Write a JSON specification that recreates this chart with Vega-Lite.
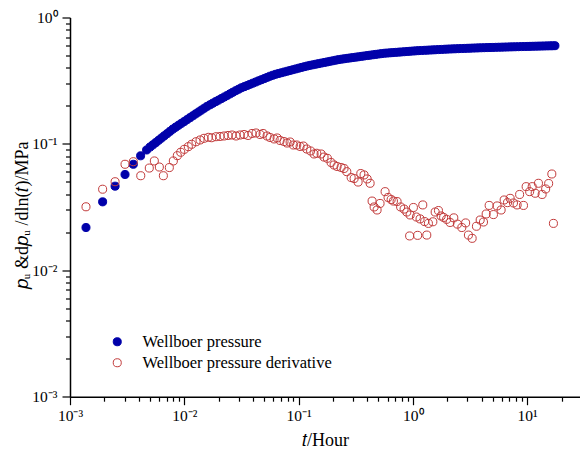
{
  "$schema": "https://vega.github.io/schema/vega-lite/v6.json",
  "width": 510,
  "height": 379.2,
  "autosize": {"type": "none"},
  "padding": {"left": 70, "top": 17.5, "right": 0, "bottom": 52.3},
  "background": "white",
  "config": {"view": {"stroke": null}, "font": "Liberation Serif"},
  "data": {"values": [
    {"s":"Wellboer pressure","t":0.00138,"p":0.0218},{"s":"Wellboer pressure","t":0.00193,"p":0.0348},{"s":"Wellboer pressure","t":0.00248,"p":0.0463},
    {"s":"Wellboer pressure","t":0.00303,"p":0.0573},{"s":"Wellboer pressure","t":0.00358,"p":0.069},{"s":"Wellboer pressure","t":0.00415,"p":0.0805},
    {"s":"Wellboer pressure","t":0.00468,"p":0.0895},{"s":"Wellboer pressure","t":0.005012,"p":0.0944},{"s":"Wellboer pressure","t":0.005309,"p":0.0983},
    {"s":"Wellboer pressure","t":0.005623,"p":0.1023},{"s":"Wellboer pressure","t":0.005957,"p":0.1067},{"s":"Wellboer pressure","t":0.00631,"p":0.1112},
    {"s":"Wellboer pressure","t":0.006683,"p":0.1159},{"s":"Wellboer pressure","t":0.007079,"p":0.1206},{"s":"Wellboer pressure","t":0.007499,"p":0.1257},
    {"s":"Wellboer pressure","t":0.007943,"p":0.1309},{"s":"Wellboer pressure","t":0.008414,"p":0.1357},{"s":"Wellboer pressure","t":0.008913,"p":0.1406},
    {"s":"Wellboer pressure","t":0.009441,"p":0.1455},{"s":"Wellboer pressure","t":0.01,"p":0.1505},{"s":"Wellboer pressure","t":0.01059,"p":0.1558},
    {"s":"Wellboer pressure","t":0.01122,"p":0.1613},{"s":"Wellboer pressure","t":0.01189,"p":0.167},{"s":"Wellboer pressure","t":0.01259,"p":0.1728},
    {"s":"Wellboer pressure","t":0.01334,"p":0.1789},{"s":"Wellboer pressure","t":0.01413,"p":0.1851},{"s":"Wellboer pressure","t":0.01496,"p":0.1916},
    {"s":"Wellboer pressure","t":0.01585,"p":0.1982},{"s":"Wellboer pressure","t":0.01679,"p":0.204},{"s":"Wellboer pressure","t":0.01778,"p":0.2099},
    {"s":"Wellboer pressure","t":0.01884,"p":0.216},{"s":"Wellboer pressure","t":0.01995,"p":0.2221},{"s":"Wellboer pressure","t":0.02113,"p":0.2285},
    {"s":"Wellboer pressure","t":0.02239,"p":0.235},{"s":"Wellboer pressure","t":0.02371,"p":0.2419},{"s":"Wellboer pressure","t":0.02512,"p":0.2489},
    {"s":"Wellboer pressure","t":0.02661,"p":0.2562},{"s":"Wellboer pressure","t":0.02818,"p":0.2636},{"s":"Wellboer pressure","t":0.02985,"p":0.2708},
    {"s":"Wellboer pressure","t":0.03162,"p":0.278},{"s":"Wellboer pressure","t":0.0335,"p":0.2838},{"s":"Wellboer pressure","t":0.03548,"p":0.2897},
    {"s":"Wellboer pressure","t":0.03758,"p":0.296},{"s":"Wellboer pressure","t":0.03981,"p":0.3023},{"s":"Wellboer pressure","t":0.04217,"p":0.3089},
    {"s":"Wellboer pressure","t":0.04467,"p":0.3155},{"s":"Wellboer pressure","t":0.04732,"p":0.3222},{"s":"Wellboer pressure","t":0.05012,"p":0.3289},
    {"s":"Wellboer pressure","t":0.05309,"p":0.336},{"s":"Wellboer pressure","t":0.05623,"p":0.3432},{"s":"Wellboer pressure","t":0.05957,"p":0.3494},
    {"s":"Wellboer pressure","t":0.0631,"p":0.3556},{"s":"Wellboer pressure","t":0.06683,"p":0.3606},{"s":"Wellboer pressure","t":0.07079,"p":0.3656},
    {"s":"Wellboer pressure","t":0.07499,"p":0.3707},{"s":"Wellboer pressure","t":0.07943,"p":0.3758},{"s":"Wellboer pressure","t":0.08414,"p":0.3811},
    {"s":"Wellboer pressure","t":0.08913,"p":0.3864},{"s":"Wellboer pressure","t":0.09441,"p":0.3918},{"s":"Wellboer pressure","t":0.1,"p":0.3972},
    {"s":"Wellboer pressure","t":0.1059,"p":0.4027},{"s":"Wellboer pressure","t":0.1122,"p":0.4083},{"s":"Wellboer pressure","t":0.1189,"p":0.4132},
    {"s":"Wellboer pressure","t":0.1259,"p":0.4182},{"s":"Wellboer pressure","t":0.1334,"p":0.4226},{"s":"Wellboer pressure","t":0.1413,"p":0.427},
    {"s":"Wellboer pressure","t":0.1496,"p":0.4315},{"s":"Wellboer pressure","t":0.1585,"p":0.4361},{"s":"Wellboer pressure","t":0.1679,"p":0.4407},
    {"s":"Wellboer pressure","t":0.1778,"p":0.4453},{"s":"Wellboer pressure","t":0.1884,"p":0.45},{"s":"Wellboer pressure","t":0.1995,"p":0.4547},
    {"s":"Wellboer pressure","t":0.2113,"p":0.4595},{"s":"Wellboer pressure","t":0.2239,"p":0.4643},{"s":"Wellboer pressure","t":0.2371,"p":0.468},
    {"s":"Wellboer pressure","t":0.2512,"p":0.4718},{"s":"Wellboer pressure","t":0.2661,"p":0.4752},{"s":"Wellboer pressure","t":0.2818,"p":0.4786},
    {"s":"Wellboer pressure","t":0.2985,"p":0.482},{"s":"Wellboer pressure","t":0.3162,"p":0.4855},{"s":"Wellboer pressure","t":0.335,"p":0.489},
    {"s":"Wellboer pressure","t":0.3548,"p":0.4926},{"s":"Wellboer pressure","t":0.3758,"p":0.4962},{"s":"Wellboer pressure","t":0.3981,"p":0.4997},
    {"s":"Wellboer pressure","t":0.4217,"p":0.5033},{"s":"Wellboer pressure","t":0.4467,"p":0.507},{"s":"Wellboer pressure","t":0.4732,"p":0.5106},
    {"s":"Wellboer pressure","t":0.5012,"p":0.5143},{"s":"Wellboer pressure","t":0.5309,"p":0.5178},{"s":"Wellboer pressure","t":0.5623,"p":0.5213},
    {"s":"Wellboer pressure","t":0.5957,"p":0.5234},{"s":"Wellboer pressure","t":0.631,"p":0.5255},{"s":"Wellboer pressure","t":0.6683,"p":0.5276},
    {"s":"Wellboer pressure","t":0.7079,"p":0.5298},{"s":"Wellboer pressure","t":0.7499,"p":0.532},{"s":"Wellboer pressure","t":0.7943,"p":0.5341},
    {"s":"Wellboer pressure","t":0.8414,"p":0.5362},{"s":"Wellboer pressure","t":0.8913,"p":0.5384},{"s":"Wellboer pressure","t":0.9441,"p":0.5406},
    {"s":"Wellboer pressure","t":1.0,"p":0.5428},{"s":"Wellboer pressure","t":1.059,"p":0.5448},{"s":"Wellboer pressure","t":1.122,"p":0.5468},
    {"s":"Wellboer pressure","t":1.189,"p":0.5483},{"s":"Wellboer pressure","t":1.259,"p":0.5498},{"s":"Wellboer pressure","t":1.334,"p":0.5513},
    {"s":"Wellboer pressure","t":1.413,"p":0.5529},{"s":"Wellboer pressure","t":1.496,"p":0.5544},{"s":"Wellboer pressure","t":1.585,"p":0.5559},
    {"s":"Wellboer pressure","t":1.679,"p":0.5574},{"s":"Wellboer pressure","t":1.778,"p":0.559},{"s":"Wellboer pressure","t":1.884,"p":0.5605},
    {"s":"Wellboer pressure","t":1.995,"p":0.5621},{"s":"Wellboer pressure","t":2.113,"p":0.5634},{"s":"Wellboer pressure","t":2.239,"p":0.5648},
    {"s":"Wellboer pressure","t":2.371,"p":0.5659},{"s":"Wellboer pressure","t":2.512,"p":0.567},{"s":"Wellboer pressure","t":2.661,"p":0.5682},
    {"s":"Wellboer pressure","t":2.818,"p":0.5694},{"s":"Wellboer pressure","t":2.985,"p":0.5705},{"s":"Wellboer pressure","t":3.162,"p":0.5716},
    {"s":"Wellboer pressure","t":3.35,"p":0.5728},{"s":"Wellboer pressure","t":3.548,"p":0.574},{"s":"Wellboer pressure","t":3.758,"p":0.5751},
    {"s":"Wellboer pressure","t":3.981,"p":0.5762},{"s":"Wellboer pressure","t":4.217,"p":0.5771},{"s":"Wellboer pressure","t":4.467,"p":0.5781},
    {"s":"Wellboer pressure","t":4.732,"p":0.579},{"s":"Wellboer pressure","t":5.012,"p":0.5798},{"s":"Wellboer pressure","t":5.309,"p":0.5807},
    {"s":"Wellboer pressure","t":5.623,"p":0.5817},{"s":"Wellboer pressure","t":5.957,"p":0.5825},{"s":"Wellboer pressure","t":6.31,"p":0.5834},
    {"s":"Wellboer pressure","t":6.683,"p":0.5843},{"s":"Wellboer pressure","t":7.079,"p":0.5853},{"s":"Wellboer pressure","t":7.499,"p":0.5862},
    {"s":"Wellboer pressure","t":7.943,"p":0.5871},{"s":"Wellboer pressure","t":8.414,"p":0.5879},{"s":"Wellboer pressure","t":8.913,"p":0.5888},
    {"s":"Wellboer pressure","t":9.441,"p":0.5896},{"s":"Wellboer pressure","t":10.0,"p":0.5904},{"s":"Wellboer pressure","t":10.59,"p":0.5912},
    {"s":"Wellboer pressure","t":11.22,"p":0.5921},{"s":"Wellboer pressure","t":11.89,"p":0.5929},{"s":"Wellboer pressure","t":12.59,"p":0.5937},
    {"s":"Wellboer pressure","t":13.34,"p":0.5945},{"s":"Wellboer pressure","t":14.13,"p":0.5954},{"s":"Wellboer pressure","t":14.96,"p":0.5962},
    {"s":"Wellboer pressure","t":15.85,"p":0.597},{"s":"Wellboer pressure","t":16.65,"p":0.5977},{"s":"Wellboer pressure","t":17.5,"p":0.5984},
    {"s":"Wellboer pressure derivative","t":0.00138,"p":0.0318},{"s":"Wellboer pressure derivative","t":0.00193,"p":0.0438},
    {"s":"Wellboer pressure derivative","t":0.00248,"p":0.0502},{"s":"Wellboer pressure derivative","t":0.00303,"p":0.069},
    {"s":"Wellboer pressure derivative","t":0.00358,"p":0.0723},{"s":"Wellboer pressure derivative","t":0.00416,"p":0.056},
    {"s":"Wellboer pressure derivative","t":0.00494,"p":0.0644},{"s":"Wellboer pressure derivative","t":0.00547,"p":0.0733},
    {"s":"Wellboer pressure derivative","t":0.00605,"p":0.0656},{"s":"Wellboer pressure derivative","t":0.00656,"p":0.056},
    {"s":"Wellboer pressure derivative","t":0.0074,"p":0.065},{"s":"Wellboer pressure derivative","t":0.00802,"p":0.0733},
    {"s":"Wellboer pressure derivative","t":0.00869,"p":0.0807},{"s":"Wellboer pressure derivative","t":0.00931,"p":0.0859},
    {"s":"Wellboer pressure derivative","t":0.01001,"p":0.0906},{"s":"Wellboer pressure derivative","t":0.01085,"p":0.0951},
    {"s":"Wellboer pressure derivative","t":0.01161,"p":0.0993},{"s":"Wellboer pressure derivative","t":0.01267,"p":0.104},
    {"s":"Wellboer pressure derivative","t":0.01374,"p":0.1074},{"s":"Wellboer pressure derivative","t":0.01489,"p":0.1107},
    {"s":"Wellboer pressure derivative","t":0.01625,"p":0.1127},{"s":"Wellboer pressure derivative","t":0.01738,"p":0.1119},
    {"s":"Wellboer pressure derivative","t":0.01897,"p":0.114},{"s":"Wellboer pressure derivative","t":0.02056,"p":0.1145},
    {"s":"Wellboer pressure derivative","t":0.02228,"p":0.1155},{"s":"Wellboer pressure derivative","t":0.02415,"p":0.1166},
    {"s":"Wellboer pressure derivative","t":0.02618,"p":0.1176},{"s":"Wellboer pressure derivative","t":0.02838,"p":0.1155},
    {"s":"Wellboer pressure derivative","t":0.03076,"p":0.1176},{"s":"Wellboer pressure derivative","t":0.03334,"p":0.1187},
    {"s":"Wellboer pressure derivative","t":0.03614,"p":0.1166},{"s":"Wellboer pressure derivative","t":0.03917,"p":0.1209},
    {"s":"Wellboer pressure derivative","t":0.04246,"p":0.122},{"s":"Wellboer pressure derivative","t":0.04603,"p":0.1187},
    {"s":"Wellboer pressure derivative","t":0.0489,"p":0.1209},{"s":"Wellboer pressure derivative","t":0.053,"p":0.1155},
    {"s":"Wellboer pressure derivative","t":0.0563,"p":0.1124},{"s":"Wellboer pressure derivative","t":0.0611,"p":0.1094},
    {"s":"Wellboer pressure derivative","t":0.0649,"p":0.1114},{"s":"Wellboer pressure derivative","t":0.0689,"p":0.1064},
    {"s":"Wellboer pressure derivative","t":0.0746,"p":0.1044},{"s":"Wellboer pressure derivative","t":0.0793,"p":0.1016},
    {"s":"Wellboer pressure derivative","t":0.0843,"p":0.1035},{"s":"Wellboer pressure derivative","t":0.09,"p":0.098},
    {"s":"Wellboer pressure derivative","t":0.0964,"p":0.098},{"s":"Wellboer pressure derivative","t":0.1031,"p":0.0954},
    {"s":"Wellboer pressure derivative","t":0.1102,"p":0.0962},{"s":"Wellboer pressure derivative","t":0.118,"p":0.0911},
    {"s":"Wellboer pressure derivative","t":0.1274,"p":0.0879},{"s":"Wellboer pressure derivative","t":0.1367,"p":0.0832},
    {"s":"Wellboer pressure derivative","t":0.1443,"p":0.0843},{"s":"Wellboer pressure derivative","t":0.1574,"p":0.0832},
    {"s":"Wellboer pressure derivative","t":0.1671,"p":0.0787},{"s":"Wellboer pressure derivative","t":0.1786,"p":0.0769},
    {"s":"Wellboer pressure derivative","t":0.1924,"p":0.0713},{"s":"Wellboer pressure derivative","t":0.2045,"p":0.0681},
    {"s":"Wellboer pressure derivative","t":0.2173,"p":0.0663},{"s":"Wellboer pressure derivative","t":0.2355,"p":0.0651},
    {"s":"Wellboer pressure derivative","t":0.25,"p":0.0639},{"s":"Wellboer pressure derivative","t":0.2642,"p":0.0603},
    {"s":"Wellboer pressure derivative","t":0.2884,"p":0.0542},{"s":"Wellboer pressure derivative","t":0.3062,"p":0.0532},
    {"s":"Wellboer pressure derivative","t":0.3319,"p":0.0499},{"s":"Wellboer pressure derivative","t":0.3502,"p":0.0583},
    {"s":"Wellboer pressure derivative","t":0.3742,"p":0.0568},{"s":"Wellboer pressure derivative","t":0.3981,"p":0.0528},
    {"s":"Wellboer pressure derivative","t":0.4227,"p":0.0488},{"s":"Wellboer pressure derivative","t":0.4397,"p":0.0353},
    {"s":"Wellboer pressure derivative","t":0.4581,"p":0.0317},{"s":"Wellboer pressure derivative","t":0.4864,"p":0.03},
    {"s":"Wellboer pressure derivative","t":0.5164,"p":0.0338},{"s":"Wellboer pressure derivative","t":0.5715,"p":0.0419},
    {"s":"Wellboer pressure derivative","t":0.6067,"p":0.0377},{"s":"Wellboer pressure derivative","t":0.6457,"p":0.0363},
    {"s":"Wellboer pressure derivative","t":0.6761,"p":0.0353},{"s":"Wellboer pressure derivative","t":0.7278,"p":0.035},
    {"s":"Wellboer pressure derivative","t":0.7816,"p":0.0317},{"s":"Wellboer pressure derivative","t":0.8375,"p":0.0305},
    {"s":"Wellboer pressure derivative","t":0.885,"p":0.0289},{"s":"Wellboer pressure derivative","t":0.937,"p":0.0187},
    {"s":"Wellboer pressure derivative","t":0.946,"p":0.0274},{"s":"Wellboer pressure derivative","t":1.011,"p":0.0314},
    {"s":"Wellboer pressure derivative","t":1.074,"p":0.0264},{"s":"Wellboer pressure derivative","t":1.101,"p":0.0189},
    {"s":"Wellboer pressure derivative","t":1.156,"p":0.0255},{"s":"Wellboer pressure derivative","t":1.221,"p":0.0329},
    {"s":"Wellboer pressure derivative","t":1.267,"p":0.0243},{"s":"Wellboer pressure derivative","t":1.324,"p":0.019},
    {"s":"Wellboer pressure derivative","t":1.368,"p":0.0235},{"s":"Wellboer pressure derivative","t":1.496,"p":0.0242},
    {"s":"Wellboer pressure derivative","t":1.567,"p":0.0289},{"s":"Wellboer pressure derivative","t":1.675,"p":0.0297},
    {"s":"Wellboer pressure derivative","t":1.767,"p":0.0269},{"s":"Wellboer pressure derivative","t":1.858,"p":0.0262},
    {"s":"Wellboer pressure derivative","t":1.974,"p":0.0253},{"s":"Wellboer pressure derivative","t":2.117,"p":0.0239},
    {"s":"Wellboer pressure derivative","t":2.281,"p":0.026},{"s":"Wellboer pressure derivative","t":2.453,"p":0.0232},
    {"s":"Wellboer pressure derivative","t":2.681,"p":0.0218},{"s":"Wellboer pressure derivative","t":2.896,"p":0.0237},
    {"s":"Wellboer pressure derivative","t":3.063,"p":0.019},{"s":"Wellboer pressure derivative","t":3.302,"p":0.0179},
    {"s":"Wellboer pressure derivative","t":3.6,"p":0.0223},{"s":"Wellboer pressure derivative","t":3.88,"p":0.025},
    {"s":"Wellboer pressure derivative","t":4.148,"p":0.0241},{"s":"Wellboer pressure derivative","t":4.378,"p":0.0279},
    {"s":"Wellboer pressure derivative","t":4.65,"p":0.0326},{"s":"Wellboer pressure derivative","t":5.07,"p":0.0276},
    {"s":"Wellboer pressure derivative","t":5.46,"p":0.0323},{"s":"Wellboer pressure derivative","t":5.92,"p":0.03},
    {"s":"Wellboer pressure derivative","t":6.29,"p":0.036},{"s":"Wellboer pressure derivative","t":6.73,"p":0.0343},
    {"s":"Wellboer pressure derivative","t":7.1,"p":0.0371},{"s":"Wellboer pressure derivative","t":7.59,"p":0.0341},
    {"s":"Wellboer pressure derivative","t":8.17,"p":0.0329},{"s":"Wellboer pressure derivative","t":8.59,"p":0.0398},
    {"s":"Wellboer pressure derivative","t":9.29,"p":0.0326},{"s":"Wellboer pressure derivative","t":9.8,"p":0.0459},
    {"s":"Wellboer pressure derivative","t":10.52,"p":0.0419},{"s":"Wellboer pressure derivative","t":11.07,"p":0.0459},
    {"s":"Wellboer pressure derivative","t":11.75,"p":0.0407},{"s":"Wellboer pressure derivative","t":12.56,"p":0.0488},
    {"s":"Wellboer pressure derivative","t":13.52,"p":0.0398},{"s":"Wellboer pressure derivative","t":14.52,"p":0.044},
    {"s":"Wellboer pressure derivative","t":15.42,"p":0.0486},{"s":"Wellboer pressure derivative","t":16.44,"p":0.0578},
    {"s":"Wellboer pressure derivative","t":16.98,"p":0.0235}
  ]},
  "mark": {"type": "point", "shape": "circle", "size": 65, "strokeWidth": 1, "opacity": 1},
  "encoding": {
    "x": {
      "field": "t", "type": "quantitative",
      "scale": {"type": "log", "domain": [0.001, 29], "nice": false},
      "axis": {
        "values": [0.001,0.002,0.003,0.004,0.005,0.006,0.007,0.008,0.009,0.01,0.02,0.03,0.04,0.05,0.06,0.07,0.08,0.09,0.1,0.2,0.3,0.4,0.5,0.6,0.7,0.8,0.9,1,2,3,4,5,6,7,8,9,10,20],
        "labelExpr": "abs(log(datum.value)/LN10 - round(log(datum.value)/LN10)) < 0.001 ? (round(log(datum.value)/LN10) == -3 ? '10⁻³' : round(log(datum.value)/LN10) == -2 ? '10⁻²' : round(log(datum.value)/LN10) == -1 ? '10⁻¹' : round(log(datum.value)/LN10) == 0 ? '10⁰' : '10¹') : ''",
        "tickSize": {"condition": {"test": "abs(log(datum.value)/LN10 - round(log(datum.value)/LN10)) < 0.001", "value": 8}, "value": 4.5},
        "grid": false,
        "domainColor": "black", "domainWidth": 1.5,
        "tickColor": "black", "tickWidth": 1.2,
        "labelFont": "Liberation Serif", "labelFontSize": 15.5, "labelColor": "black",
        "labelPadding": 4, "labelFlush": false, "labelOverlap": false,
        "title": "𝑡/Hour",
        "titleFont": "Liberation Serif", "titleFontSize": 18, "titleFontWeight": "normal", "titleColor": "black",
        "titleX": 255, "titleY": 44, "titleBaseline": "middle", "titleAlign": "center"
      }
    },
    "y": {
      "field": "p", "type": "quantitative",
      "scale": {"type": "log", "domain": [0.001, 1], "nice": false},
      "axis": {
        "values": [0.001,0.002,0.003,0.004,0.005,0.006,0.007,0.008,0.009,0.01,0.02,0.03,0.04,0.05,0.06,0.07,0.08,0.09,0.1,0.2,0.3,0.4,0.5,0.6,0.7,0.8,0.9,1],
        "labelExpr": "abs(log(datum.value)/LN10 - round(log(datum.value)/LN10)) < 0.001 ? (round(log(datum.value)/LN10) == -3 ? '10⁻³' : round(log(datum.value)/LN10) == -2 ? '10⁻²' : round(log(datum.value)/LN10) == -1 ? '10⁻¹' : '10⁰') : ''",
        "tickSize": {"condition": {"test": "abs(log(datum.value)/LN10 - round(log(datum.value)/LN10)) < 0.001", "value": 8}, "value": 4.5},
        "grid": false,
        "domainColor": "black", "domainWidth": 1.5,
        "tickColor": "black", "tickWidth": 1.2,
        "labelFont": "Liberation Serif", "labelFontSize": 15.5, "labelColor": "black",
        "labelPadding": 5, "labelFlush": false, "labelOverlap": false,
        "title": "𝑝ᵤ &d𝑝ᵤ /dln(𝑡)/MPa",
        "titleFont": "Liberation Serif", "titleFontSize": 18, "titleFontWeight": "normal", "titleColor": "black",
        "titleX": -48, "titleY": 197.5, "titleBaseline": "middle", "titleAlign": "center", "titleAngle": -90
      }
    },
    "stroke": {
      "field": "s", "type": "nominal",
      "scale": {"domain": ["Wellboer pressure", "Wellboer pressure derivative"], "range": ["#0000AA", "#C23B3B"]},
      "legend": {"orient": "none", "legendX": 39, "legendY": 316, "title": null, "padding": 0,
        "labelFont": "Liberation Serif", "labelFontSize": 16.5, "labelColor": "black", "labelOffset": 17, "labelLimit": 400,
        "symbolSize": 65, "symbolStrokeWidth": 1, "symbolType": "circle", "symbolOpacity": 1, "rowPadding": 4}
    },
    "fill": {
      "field": "s", "type": "nominal",
      "scale": {"domain": ["Wellboer pressure", "Wellboer pressure derivative"], "range": ["#0000AA", "transparent"]},
      "legend": {"orient": "none", "legendX": 39, "legendY": 316, "title": null, "padding": 0,
        "labelFont": "Liberation Serif", "labelFontSize": 16.5, "labelColor": "black", "labelOffset": 17, "labelLimit": 400,
        "symbolSize": 65, "symbolStrokeWidth": 1, "symbolType": "circle", "symbolOpacity": 1, "rowPadding": 4}
    }
  }
}
